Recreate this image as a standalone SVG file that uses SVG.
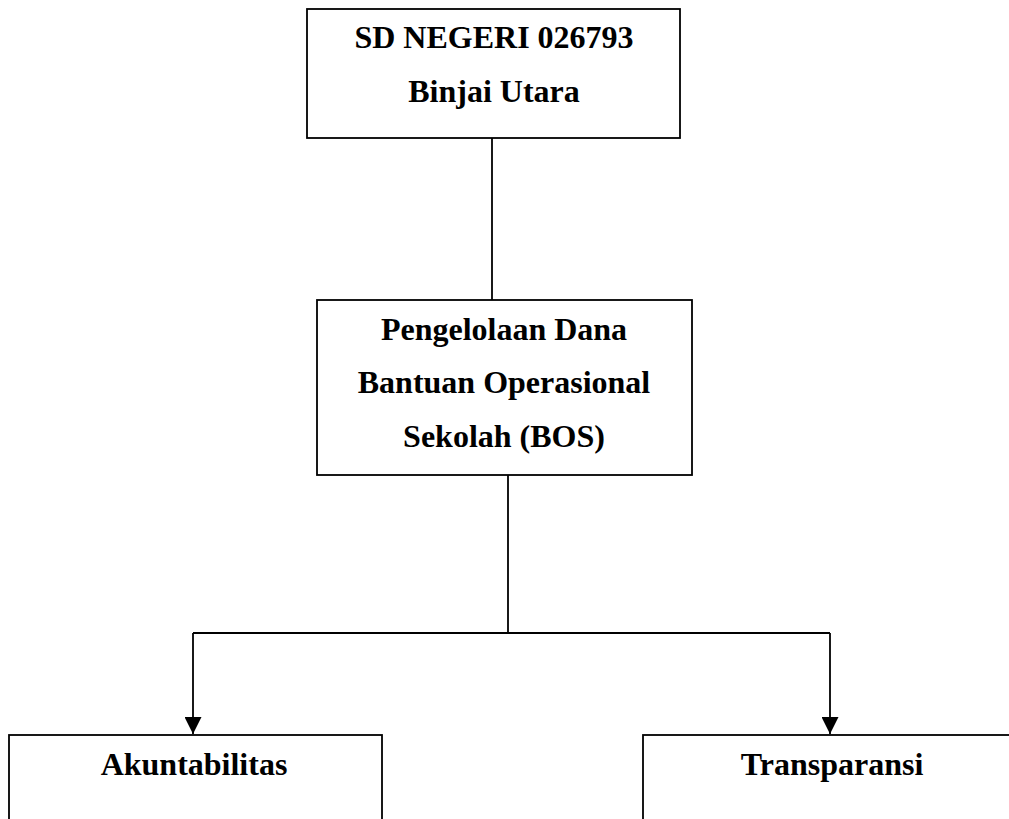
<svg xmlns="http://www.w3.org/2000/svg" width="1009" height="819" viewBox="0 0 1009 819">
<style>
.box{fill:#fff;stroke:#000;stroke-width:1.8}
.ln{fill:none;stroke:#000;stroke-width:1.8}
.t{font-family:"Liberation Serif","Times New Roman",serif;font-weight:bold;font-size:32px;fill:#000;text-anchor:middle}
</style>
<defs>
<marker id="arr" viewBox="0 0 10 10" refX="10" refY="5" markerWidth="17" markerHeight="17" markerUnits="userSpaceOnUse" orient="auto">
<path d="M0,0 L10,5 L0,10 Z" fill="#000"/>
</marker>
</defs>
<rect width="1009" height="819" fill="#fff"/>
<g id="connectors">
<line class="ln" x1="492" y1="138" x2="492" y2="300"/>
<line class="ln" x1="508" y1="475" x2="508" y2="633"/>
<line class="ln" x1="193" y1="633" x2="830" y2="633"/>
<line class="ln" x1="193" y1="633" x2="193" y2="734" marker-end="url(#arr)"/>
<line class="ln" x1="830" y1="633" x2="830" y2="734" marker-end="url(#arr)"/>
</g>
<g id="node-sd">
<rect class="box" x="307" y="9" width="373" height="129"/>
<text class="t" x="494" y="48">SD NEGERI 026793</text>
<text class="t" x="494" y="102">Binjai Utara</text>
</g>
<g id="node-bos">
<rect class="box" x="317" y="300" width="375" height="175"/>
<text class="t" x="504" y="340">Pengelolaan Dana</text>
<text class="t" x="504" y="393">Bantuan Operasional</text>
<text class="t" x="504" y="447">Sekolah (BOS)</text>
</g>
<g id="node-akuntabilitas">
<rect class="box" x="9" y="735" width="373" height="100"/>
<text class="t" x="194" y="775">Akuntabilitas</text>
</g>
<g id="node-transparansi">
<rect class="box" x="643" y="735" width="380" height="100"/>
<text class="t" x="832" y="775">Transparansi</text>
</g>
</svg>
